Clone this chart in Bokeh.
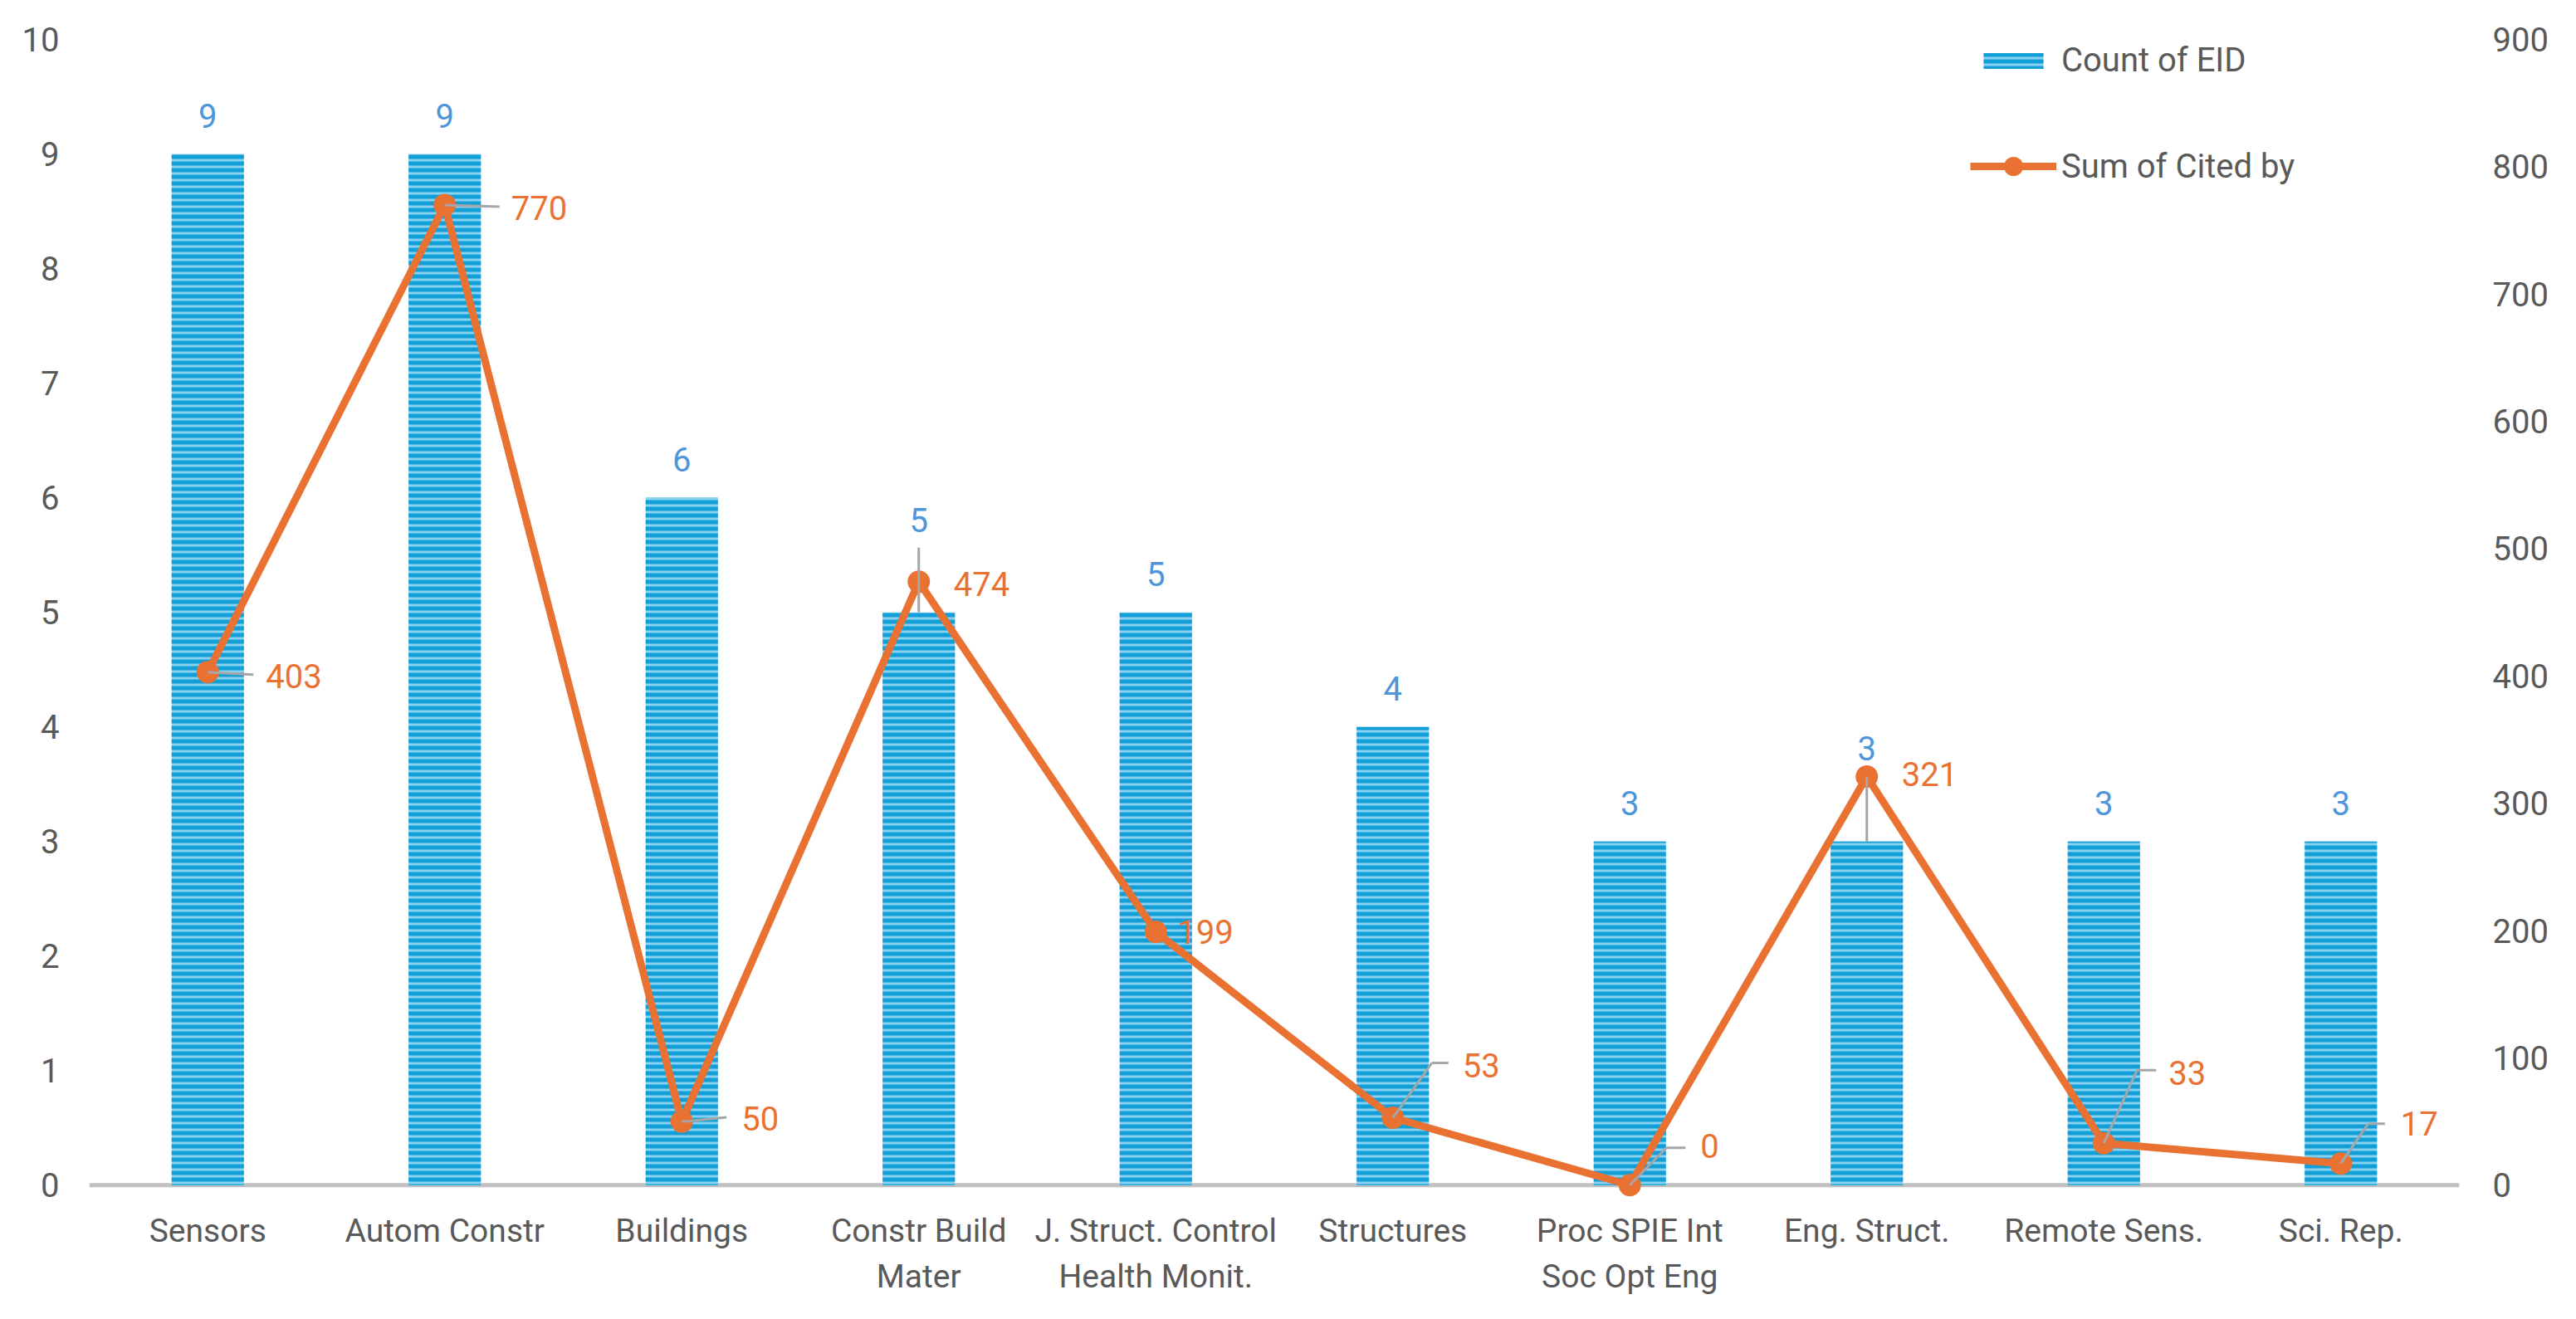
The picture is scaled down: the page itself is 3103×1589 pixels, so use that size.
from bokeh.plotting import figure
from bokeh.models import (ColumnDataSource, Range1d, LinearAxis, FixedTicker,
                          Legend, LegendItem, Span, CustomJSTickFormatter)
from bokeh.core.properties import value
from bokeh.embed import file_html
from bokeh.resources import INLINE

# ---------------- data ----------------
categories = ["Sensors", "Autom Constr", "Buildings", "Constr Build\nMater",
              "J. Struct. Control\nHealth Monit.", "Structures",
              "Proc SPIE Int\nSoc Opt Eng", "Eng. Struct.", "Remote Sens.", "Sci. Rep."]
count_of_eid = [9, 9, 6, 5, 5, 4, 3, 3, 3, 3]
sum_cited_by = [403, 770, 50, 474, 199, 53, 0, 321, 33, 17]
left_ticks = list(range(0, 11))
right_ticks = list(range(0, 901, 100))

# ---------------- label placement (screen px offsets) ----------------
bar_label_dy = [46, 46, 46, 111, 46, 46, 46, 112, 46, 46]      # px above bar top
bar_leader_len = [0, 0, 0, 78, 0, 0, 0, 78, 0, 0]              # px
line_label_dx = [70, 80, 72, 42, 26, 84, 85, 42, 78, 72]       # px right of point
line_label_dy = [-5, -4, 4, -3, 0, 63, 47, 3, 85, 48]          # px above point
leader_elbow = [(0, 0), (0, 0), (5, 0), None, None, (47, 66), (44, 45), None, (40, 88), (33, 48)]
leader_end = [(55, -3), (66, -2), (54, 5), None, None, (67, 66), (67, 45), None, (63, 88), (53, 48)]

FONT = "Roboto"
FS = "40px"
FS_CAT = "39px"
BLUE_BAR = "#129fd7"
BLUE_LIGHT = "#8ad1f1"
BLUE_TEXT = "#4e95d9"
ORANGE = "#e97132"
GRAY_TEXT = "#595959"
LEADER = "#a6a6a6"

W, H = 3087, 1573
ML, MR, MT, MB = 107, 125, 47, 125
frame_w = W - ML - MR
frame_h = H - MT - MB
Y0 = -0.15
PX_X = frame_w / 10.0
PX_Y = frame_h / (10.0 - Y0)
PX_R = PX_Y / 90.0

xs = [i + 0.5 for i in range(len(categories))]

p = figure(width=W, height=H, output_backend="svg", toolbar_location=None,
           x_range=Range1d(0, 10), y_range=Range1d(Y0, 10),
           min_border_left=ML, min_border_right=MR, min_border_top=MT, min_border_bottom=MB)
p.extra_y_ranges = {"right": Range1d(Y0 * 90, 900)}
p.outline_line_color = None
p.grid.visible = False
p.background_fill_color = "white"
p.border_fill_color = "white"

def style_axis(ax, fs=FS):
    ax.axis_line_color = None
    ax.major_tick_line_color = None
    ax.minor_tick_line_color = None
    ax.major_tick_out = 0
    ax.major_tick_in = 0
    ax.minor_tick_out = 0
    ax.minor_tick_in = 0
    ax.major_label_text_font = FONT
    ax.major_label_text_font_size = fs
    ax.major_label_text_color = GRAY_TEXT

# left axis
style_axis(p.yaxis[0])
p.yaxis[0].ticker = FixedTicker(ticks=left_ticks)
p.yaxis[0].major_label_standoff = 36

# right axis
rax = LinearAxis(y_range_name="right", ticker=FixedTicker(ticks=right_ticks))
style_axis(rax)
rax.major_label_standoff = 40
p.add_layout(rax, "right")

# bottom axis
style_axis(p.xaxis[0], FS_CAT)
p.xaxis[0].ticker = FixedTicker(ticks=xs)
p.xaxis[0].formatter = CustomJSTickFormatter(args=dict(labels=categories),
                                             code="return labels[Math.round(tick - 0.5)];")
p.xaxis[0].major_label_standoff = 11

# zero line
p.add_layout(Span(location=0, dimension="width", line_color="#c0c0c0", line_width=5, level="underlay"))

src = ColumnDataSource(dict(x=xs, cat=categories, count=count_of_eid, cited=sum_cited_by))

bars = p.vbar(x="x", top="count", bottom=0, width=0.305, source=src,
              fill_color=BLUE_LIGHT, line_color=None,
              hatch_pattern="horizontal_line", hatch_color=BLUE_BAR,
              hatch_scale=8, hatch_weight=5)

line = p.line(x="x", y="cited", source=src, y_range_name="right",
              line_color=ORANGE, line_width=9)
dots = p.scatter(x="x", y="cited", source=src, y_range_name="right",
                 size=27, fill_color=ORANGE, line_color=None)

# bar labels
bl_src = ColumnDataSource(dict(
    x=xs,
    y=[c + d / PX_Y for c, d in zip(count_of_eid, bar_label_dy)],
    t=[str(c) for c in count_of_eid]))
p.text(x="x", y="y", text="t", source=bl_src, text_align="center", text_baseline="middle",
       text_font=value(FONT), text_font_size=FS, text_color=BLUE_TEXT)

# bar label leaders
bx, by0, by1 = [], [], []
for i, L in enumerate(bar_leader_len):
    if L:
        bx.append(xs[i]); by0.append(count_of_eid[i]); by1.append(count_of_eid[i] + L / PX_Y)
p.segment(x0=bx, y0=by0, x1=bx, y1=by1, line_color=LEADER, line_width=3)

# line labels
ll_src = ColumnDataSource(dict(
    x=[x + dx / PX_X for x, dx in zip(xs, line_label_dx)],
    y=[c + dy / PX_R for c, dy in zip(sum_cited_by, line_label_dy)],
    t=[str(c) for c in sum_cited_by]))
p.text(x="x", y="y", text="t", source=ll_src, y_range_name="right",
       text_align="left", text_baseline="middle",
       text_font=value(FONT), text_font_size=FS, text_color=ORANGE)

# line label leaders (point -> elbow -> end)
sx0, sy0, sx1, sy1 = [], [], [], []
for i, (el, en) in enumerate(zip(leader_elbow, leader_end)):
    if el is None:
        continue
    px, py = xs[i], sum_cited_by[i]
    ex, ey = px + el[0] / PX_X, py + el[1] / PX_R
    hx, hy = px + en[0] / PX_X, py + en[1] / PX_R
    if el != (0, 0):
        sx0.append(px); sy0.append(py); sx1.append(ex); sy1.append(ey)
    sx0.append(ex); sy0.append(ey); sx1.append(hx); sy1.append(hy)
p.segment(x0=sx0, y0=sy0, x1=sx1, y1=sy1, y_range_name="right", line_color=LEADER, line_width=3)

# legends (two, so each swatch can have its own size)
common = dict(orientation="vertical", padding=0, margin=0, spacing=0,
              border_line_color=None, background_fill_alpha=0,
              label_text_font=FONT, label_text_font_size=FS, label_text_color=GRAY_TEXT,
              label_height=24)
legend_a = Legend(items=[LegendItem(label="Count of EID", renderers=[bars])],
                  location=(2273, 1352), glyph_width=90, glyph_height=24,
                  label_standoff=13, **common)
legend_b = Legend(items=[LegendItem(label="Sum of Cited by", renderers=[line, dots])],
                  location=(2266, 1219), glyph_width=104, glyph_height=58,
                  label_standoff=6, **common)
p.add_layout(legend_a)
p.add_layout(legend_b)

open("out.html", "w").write(file_html(p, INLINE))
